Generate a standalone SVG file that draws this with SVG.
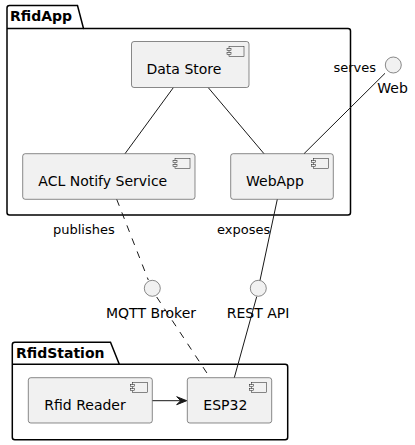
<svg xmlns="http://www.w3.org/2000/svg" width="415" height="445" viewBox="0 0 415 445">
<style>
.pkg{fill:none;stroke:#000;stroke-width:1.5}
.comp{fill:#F1F1F1;stroke:#181818;stroke-width:0.5}
.icon{fill:#F1F1F1;stroke:#181818;stroke-width:0.5}
.iface{fill:#F1F1F1;stroke:#181818;stroke-width:0.5}
.ln{fill:none;stroke:#181818;stroke-width:1}
.dash{stroke-dasharray:7,7}
.ct{font-family:"DejaVu Sans",sans-serif;font-size:14px;fill:#000}
.lt{font-family:"DejaVu Sans",sans-serif;font-size:13px;fill:#000}
.pt{font-family:"DejaVu Sans",sans-serif;font-size:14px;font-weight:bold;fill:#000}
</style>
<defs>
<g id="cicon">
<rect class="icon" x="0" y="0" width="15" height="10"/>
<rect class="icon" x="-2" y="2" width="4" height="2"/>
<rect class="icon" x="-2" y="6" width="4" height="2"/>
</g>
</defs>
<g id="pkg-RfidApp">
<path class="pkg" d="M9.5,5.5 L77.5,5.5 L83.5,28.5 L348,28.5 Q350.5,28.5 350.5,31 L350.5,212.5 Q350.5,215 348,215 L9.5,215 Q7,215 7,212.5 L7,8 Q7,5.5 9.5,5.5 Z"/>
<line class="pkg" x1="7" y1="28.5" x2="83.5" y2="28.5"/>
<text class="pt" x="10" y="21">RfidApp</text>
</g>
<g id="pkg-RfidStation">
<path class="pkg" d="M14.8,342.3 L110.5,342.3 L119.3,364.3 L285.2,364.3 Q287.7,364.3 287.7,366.8 L287.7,437.2 Q287.7,439.7 285.2,439.7 L14.8,439.7 Q12.3,439.7 12.3,437.2 L12.3,344.8 Q12.3,342.3 14.8,342.3 Z"/>
<line class="pkg" x1="12.3" y1="364.3" x2="119.3" y2="364.3"/>
<text class="pt" x="16" y="357.5">RfidStation</text>
</g>
<g id="connectors">
<line class="ln" x1="173.3" y1="87.7" x2="125" y2="153.7"/>
<line class="ln" x1="208.3" y1="87.7" x2="264" y2="153.7"/>
<line class="ln" x1="385" y1="73.3" x2="304" y2="153.7"/>
<line class="ln dash" x1="116.7" y1="199.3" x2="148.3" y2="280"/>
<line class="ln dash" x1="156.7" y1="297" x2="210" y2="377.7"/>
<line class="ln" x1="277.3" y1="199.3" x2="260" y2="280.3"/>
<line class="ln" x1="256.7" y1="296.7" x2="234.3" y2="377.7"/>
<line class="ln" x1="152.3" y1="400.7" x2="183" y2="400.7"/>
<polygon points="186.7,400.7 176.7,396.7 180.7,400.7 176.7,404.7" fill="#181818" stroke="#181818" stroke-width="1"/>
<text class="lt" x="333.5" y="72">serves</text>
<text class="lt" x="53" y="233.5">publishes</text>
<text class="lt" x="217" y="233.5">exposes</text>
</g>
<g id="node-DataStore">
<rect class="comp" x="131.5" y="41.5" width="117.5" height="46" rx="2.5"/>
<use href="#cicon" x="229" y="46.5"/>
<text class="ct" x="146.5" y="74">Data Store</text>
</g>
<g id="node-ACLNotifyService">
<rect class="comp" x="22.7" y="153.7" width="172.3" height="45.6" rx="2.5"/>
<use href="#cicon" x="175" y="158.7"/>
<text class="ct" x="38.3" y="186">ACL Notify Service</text>
</g>
<g id="node-WebApp">
<rect class="comp" x="230.7" y="153.7" width="102.6" height="45.6" rx="2.5"/>
<use href="#cicon" x="313.3" y="158.7"/>
<text class="ct" x="246" y="186">WebApp</text>
</g>
<g id="node-Web">
<circle class="iface" cx="393.3" cy="65" r="8"/>
<text class="ct" x="377.3" y="93">Web</text>
</g>
<g id="node-MQTTBroker">
<circle class="iface" cx="152.3" cy="288.3" r="8"/>
<text class="ct" x="106" y="318">MQTT Broker</text>
</g>
<g id="node-RESTAPI">
<circle class="iface" cx="258.3" cy="288.3" r="8"/>
<text class="ct" x="226.7" y="318">REST API</text>
</g>
<g id="node-RfidReader">
<rect class="comp" x="28.3" y="377.7" width="124" height="45.3" rx="2.5"/>
<use href="#cicon" x="132.3" y="382.7"/>
<text class="ct" x="44.3" y="410">Rfid Reader</text>
</g>
<g id="node-ESP32">
<rect class="comp" x="187.3" y="377.7" width="84.4" height="45.3" rx="2.5"/>
<use href="#cicon" x="251.7" y="382.7"/>
<text class="ct" x="203.3" y="410">ESP32</text>
</g>
</svg>
